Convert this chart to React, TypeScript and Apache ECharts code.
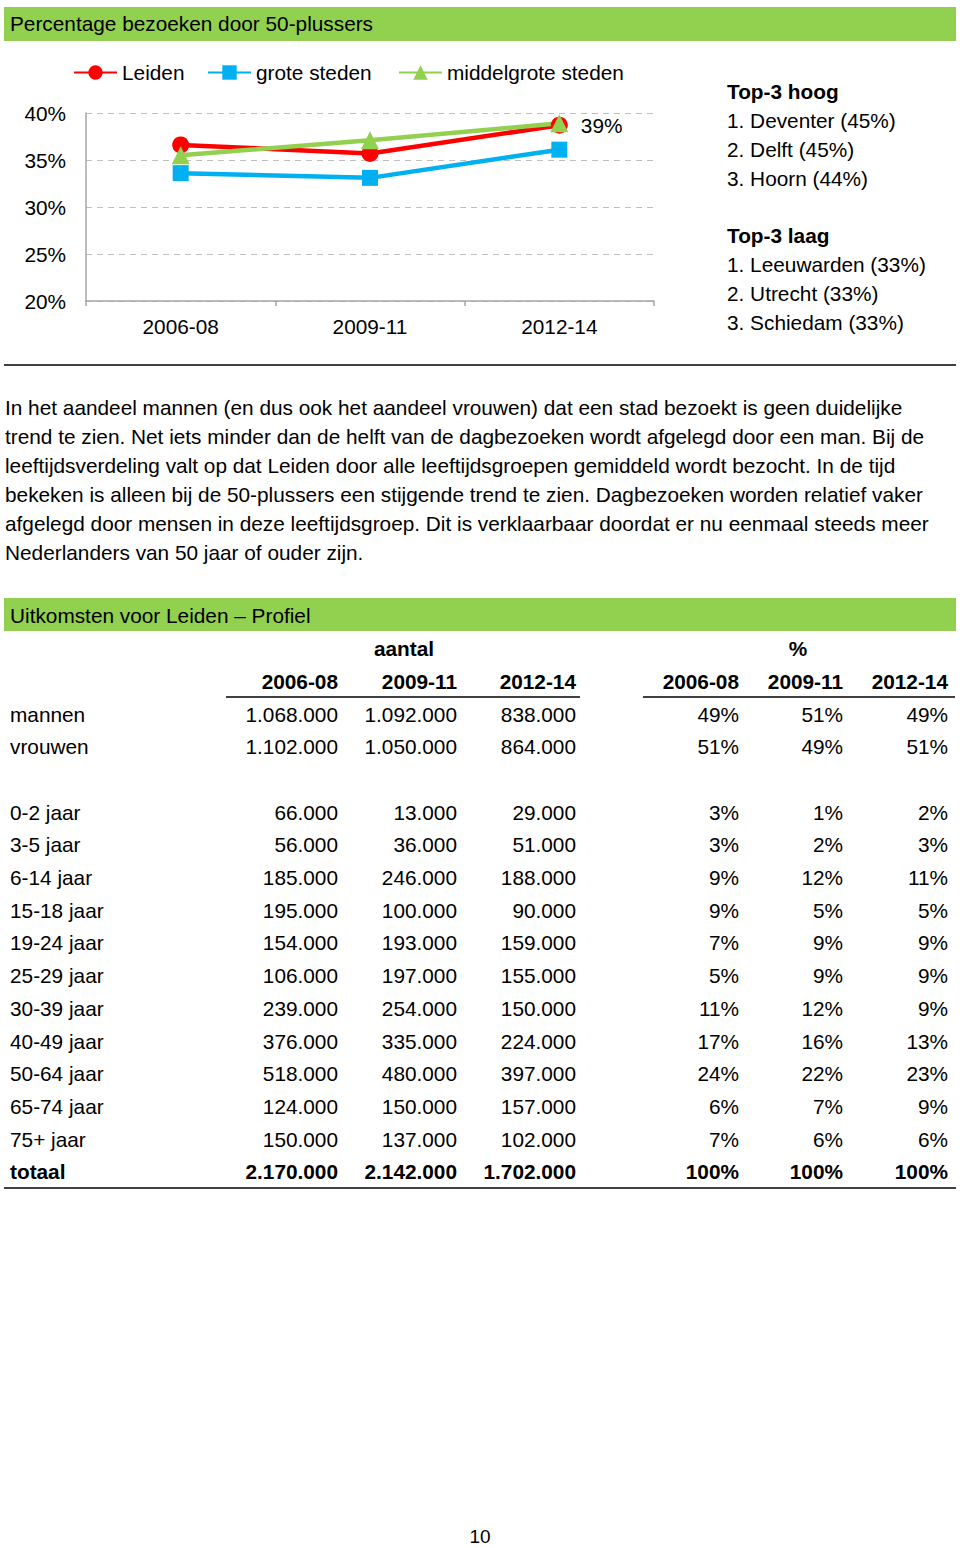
import React, { useEffect, useRef } from "react";
import * as echarts from "echarts";

// ---------- data ----------
const periods = ["2006-08", "2009-11", "2012-14"];
const leiden = [36.6, 35.7, 38.7];
const groteSteden = [33.6, 33.1, 36.1];
const middelgroteSteden = [35.5, 37.1, 38.9];
const yTicks = [20, 25, 30, 35, 40];

const top3Hoog = ["1. Deventer (45%)", "2. Delft (45%)", "3. Hoorn (44%)"];
const top3Laag = ["1. Leeuwarden (33%)", "2. Utrecht (33%)", "3. Schiedam (33%)"];

const paragraph = [
  "In het aandeel mannen (en dus ook het aandeel vrouwen) dat een stad bezoekt is geen duidelijke",
  "trend te zien. Net iets minder dan de helft van de dagbezoeken wordt afgelegd door een man. Bij de",
  "leeftijdsverdeling valt op dat Leiden door alle leeftijdsgroepen gemiddeld wordt bezocht. In de tijd",
  "bekeken is alleen bij de 50-plussers een stijgende trend te zien. Dagbezoeken worden relatief vaker",
  "afgelegd door mensen in deze leeftijdsgroep. Dit is verklaarbaar doordat er nu eenmaal steeds meer",
  "Nederlanders van 50 jaar of ouder zijn.",
];

const rowLabels = [
  "mannen", "vrouwen", "",
  "0-2 jaar", "3-5 jaar", "6-14 jaar", "15-18 jaar", "19-24 jaar", "25-29 jaar",
  "30-39 jaar", "40-49 jaar", "50-64 jaar", "65-74 jaar", "75+ jaar", "totaal",
];
const aantal0608 = ["1.068.000", "1.102.000", "", "66.000", "56.000", "185.000", "195.000", "154.000", "106.000", "239.000", "376.000", "518.000", "124.000", "150.000", "2.170.000"];
const aantal0911 = ["1.092.000", "1.050.000", "", "13.000", "36.000", "246.000", "100.000", "193.000", "197.000", "254.000", "335.000", "480.000", "150.000", "137.000", "2.142.000"];
const aantal1214 = ["838.000", "864.000", "", "29.000", "51.000", "188.000", "90.000", "159.000", "155.000", "150.000", "224.000", "397.000", "157.000", "102.000", "1.702.000"];
const pct0608 = ["49%", "51%", "", "3%", "3%", "9%", "9%", "7%", "5%", "11%", "17%", "24%", "6%", "7%", "100%"];
const pct0911 = ["51%", "49%", "", "1%", "2%", "12%", "5%", "9%", "9%", "12%", "16%", "22%", "7%", "6%", "100%"];
const pct1214 = ["49%", "51%", "", "2%", "3%", "11%", "5%", "9%", "9%", "9%", "13%", "23%", "9%", "6%", "100%"];

// ---------- styles ----------
const FONT = "'Liberation Sans', Arial, Helvetica, sans-serif";
const GREEN = "#92D050";
const TXT = "#000000";
const FS = 20.8;

function txt(x: number, y: number, text: string, opts: any = {}) {
  const align = opts.align || "left";
  return {
    type: "text",
    x,
    y,
    silent: true,
    style: {
      text,
      fill: opts.fill || TXT,
      fontSize: opts.fontSize || FS,
      fontFamily: opts.fontFamily || FONT,
      fontWeight: opts.bold ? "bold" : "normal",
      align,
      textAlign: align,
      verticalAlign: "middle",
      textVerticalAlign: "middle",
    },
  };
}

function hline(x1: number, x2: number, y: number, stroke: string, w: number) {
  return {
    type: "line",
    silent: true,
    shape: { x1, y1: y, x2, y2: y },
    style: { stroke, lineWidth: w },
  };
}

export default function App() {
  const ref = useRef<HTMLDivElement>(null);

  useEffect(() => {
    if (!ref.current) return;
    const chart = echarts.init(ref.current, undefined, { renderer: "svg" });

    const graphics: any[] = [];
    // header bars
    graphics.push({ type: "rect", silent: true, shape: { x: 4, y: 7, width: 952, height: 34 }, style: { fill: GREEN } });
    graphics.push(txt(10, 23, "Percentage bezoeken door 50-plussers"));
    graphics.push({ type: "rect", silent: true, shape: { x: 4, y: 598, width: 952, height: 33 }, style: { fill: GREEN } });
    graphics.push(txt(10, 615, "Uitkomsten voor Leiden \u2013 Profiel"));

    // top-3 panel
    graphics.push(txt(727, 91, "Top-3 hoog", { bold: true }));
    top3Hoog.forEach((s, i) => graphics.push(txt(727, 120 + i * 29, s)));
    graphics.push(txt(727, 235, "Top-3 laag", { bold: true }));
    top3Laag.forEach((s, i) => graphics.push(txt(727, 264 + i * 29, s)));

    // separator
    graphics.push(hline(4, 956, 365, "#404040", 2));

    // paragraph
    paragraph.forEach((s, i) => graphics.push(txt(5, 407 + i * 29, s)));

    // table headers
    graphics.push(txt(404, 648, "aantal", { bold: true, align: "center" }));
    graphics.push(txt(798, 648, "%", { bold: true, align: "center" }));
    const colX = [338, 457, 576, 739, 843, 948];
    [...periods, ...periods].forEach((p, i) => graphics.push(txt(colX[i], 681, p, { bold: true, align: "right" })));
    graphics.push(hline(226, 580, 697, "#000000", 1.5));
    graphics.push(hline(643, 955, 697, "#000000", 1.5));

    const cols = [aantal0608, aantal0911, aantal1214, pct0608, pct0911, pct1214];
    rowLabels.forEach((label, r) => {
      if (!label) return;
      const y = 714 + r * 32.7;
      const bold = label === "totaal";
      graphics.push(txt(10, y, label, { bold }));
      cols.forEach((col, c) => graphics.push(txt(colX[c], y, col[r], { bold, align: "right" })));
    });
    graphics.push(hline(4, 956, 1188, "#404040", 2));

    // page number
    graphics.push(txt(480, 1536, "10", { align: "center", fontSize: 19 }));

    const legendCommon = {
      top: 62,
      padding: 0,
      itemWidth: 43,
      itemHeight: 18,
      itemGap: 26,
      textStyle: { fontSize: FS, fontFamily: FONT, color: TXT },
    };

    chart.setOption({
      animation: false,
      textStyle: { fontFamily: FONT },
      legend: [
        { ...legendCommon, left: 73, data: ["Leiden"] },
        { ...legendCommon, left: 207, data: ["grote steden"] },
        { ...legendCommon, left: 398, data: ["middelgrote steden"] },
      ],
      grid: { left: 86, top: 113, width: 568, height: 188, containLabel: false },
      xAxis: {
        type: "category",
        data: periods,
        boundaryGap: true,
        axisLine: { show: true, lineStyle: { color: "#a6a6a6", width: 1.5 } },
        axisTick: { show: true, length: 5, lineStyle: { color: "#a6a6a6", width: 1.5 } },
        axisLabel: { fontSize: FS, color: TXT, margin: 15, fontFamily: FONT },
      },
      yAxis: {
        type: "value",
        min: yTicks[0],
        max: yTicks[yTicks.length - 1],
        interval: 5,
        axisLine: { show: true, lineStyle: { color: "#a6a6a6", width: 1.5 } },
        axisTick: { show: false },
        axisLabel: { fontSize: FS, color: TXT, margin: 20, fontFamily: FONT, formatter: "{value}%" },
        splitLine: { show: true, lineStyle: { color: "#bfbfbf", type: [6, 5], width: 1 } },
      },
      series: [
        {
          name: "Leiden",
          type: "line",
          data: leiden,
          symbol: "circle",
          symbolSize: 17,
          lineStyle: { color: "#FF0000", width: 4.5 },
          itemStyle: { color: "#FF0000" },
          label: {
            show: true,
            position: "right",
            distance: 13,
            fontSize: FS,
            color: TXT,
            fontFamily: FONT,
            formatter: (p: any) => (p.dataIndex === leiden.length - 1 ? "39%" : ""),
          },
        },
        {
          name: "grote steden",
          type: "line",
          data: groteSteden,
          symbol: "rect",
          symbolSize: 16,
          lineStyle: { color: "#00B0F0", width: 4.5 },
          itemStyle: { color: "#00B0F0" },
        },
        {
          name: "middelgrote steden",
          type: "line",
          data: middelgroteSteden,
          symbol: "triangle",
          symbolSize: 18,
          lineStyle: { color: GREEN, width: 4.5 },
          itemStyle: { color: GREEN },
        },
      ],
      graphic: graphics,
    });

    return () => chart.dispose();
  }, []);

  return (
    <div
      ref={ref}
      style={{ position: "absolute", left: 0, top: 0, width: 960, height: 1548, background: "#ffffff" }}
    />
  );
}
